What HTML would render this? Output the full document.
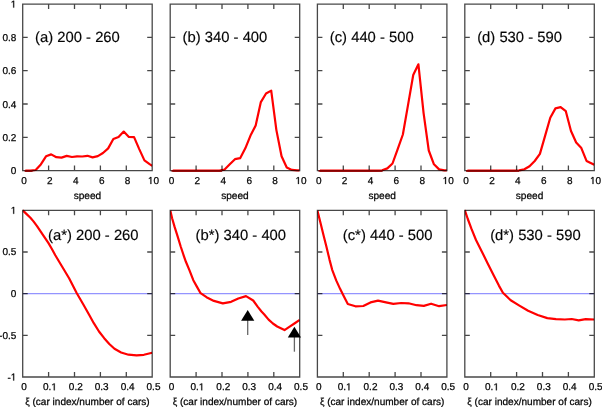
<!DOCTYPE html>
<html><head><meta charset="utf-8"><style>
html,body{margin:0;padding:0;background:#fff;}
body{width:602px;height:407px;overflow:hidden;font-family:"Liberation Sans",sans-serif;}
svg{display:block;will-change:transform;filter:blur(0.35px);}
</style></head><body>
<svg width="602" height="407" viewBox="0 0 602 407">
<rect width="602" height="407" fill="#fff"/>
<clipPath id="ct0"><rect x="22.7" y="-0.9" width="129.5" height="176.5"/></clipPath>
<clipPath id="cb0"><rect x="22.7" y="205.3" width="129.5" height="176.7"/></clipPath>
<clipPath id="ct1"><rect x="170.2" y="-0.9" width="129.5" height="176.5"/></clipPath>
<clipPath id="cb1"><rect x="170.2" y="205.3" width="129.5" height="176.7"/></clipPath>
<clipPath id="ct2"><rect x="317.4" y="-0.9" width="129.5" height="176.5"/></clipPath>
<clipPath id="cb2"><rect x="317.4" y="205.3" width="129.5" height="176.7"/></clipPath>
<clipPath id="ct3"><rect x="464.8" y="-0.9" width="129.5" height="176.5"/></clipPath>
<clipPath id="cb3"><rect x="464.8" y="205.3" width="129.5" height="176.7"/></clipPath>
<line x1="22.7" y1="293.65" x2="152.2" y2="293.65" stroke="#9494ff" stroke-width="1.1"/>
<line x1="170.2" y1="293.65" x2="299.7" y2="293.65" stroke="#9494ff" stroke-width="1.1"/>
<line x1="317.4" y1="293.65" x2="446.9" y2="293.65" stroke="#9494ff" stroke-width="1.1"/>
<line x1="464.8" y1="293.65" x2="594.3" y2="293.65" stroke="#9494ff" stroke-width="1.1"/>
<polyline clip-path="url(#ct0)" points="25.29,170.6 30.47,170.6 35.65,170 40.83,164.4 46.01,156.3 51.19,154.4 56.37,157.2 61.55,157.6 66.73,155.9 71.91,157 77.09,156.3 82.27,156.5 87.45,155.8 92.63,157.4 97.81,156.1 102.99,153 108.17,148.4 113.35,139 118.53,136.9 123.71,131.6 128.89,136.9 134.07,137.1 139.25,149.1 144.43,160.4 149.61,164.2 152.2,165.9" fill="none" stroke="#ff0000" stroke-width="2.2" stroke-linejoin="round"/>
<polyline clip-path="url(#cb0)" points="22.7,210.3 26.1,213.6 30.4,217.7 33.5,221.4 37.2,226.3 40.9,231.8 44.6,237.3 48.5,243.1 51.9,249 55.3,255.2 62.2,266.8 69.1,278.2 76.8,293.2 83.2,304.3 89.4,315.3 93.8,323.2 99,331.5 104.2,338.2 109.3,344 114.5,348.8 121.1,352.5 128.5,354.7 136.6,355.4 143.9,354.8 152.2,352.7" fill="none" stroke="#ff0000" stroke-width="2.2" stroke-linejoin="round"/>
<polyline clip-path="url(#ct1)" points="172.79,170.6 177.97,170.6 183.15,170.6 188.33,170.6 193.51,170.6 198.69,170.6 203.87,170.6 209.05,170.6 214.23,170.6 219.41,170.6 224.59,169.6 229.77,164.3 234.95,159.2 240.13,158.2 245.31,148.3 250.49,135.6 255.67,125.5 260.85,102.1 266.03,93.5 271.21,90.6 276.39,130.1 281.57,156.2 286.75,167.5 291.93,169.9 297.11,170.4 299.7,170.4" fill="none" stroke="#ff0000" stroke-width="2.2" stroke-linejoin="round"/>
<polyline clip-path="url(#cb1)" points="170.3,210.4 172.1,218.3 174.6,226.9 177.7,236.7 180.7,246.5 183.8,255.8 185.9,261.8 189.6,270.6 193.3,280.2 197,286.9 200.6,293.2 206.5,297.2 213.9,300.9 222.8,303.4 231.1,301.8 238.3,298.5 246,296.1 253.2,300.5 257.6,306.6 261.5,311.5 264.3,314.5 268.6,319.6 272.9,323.5 277.2,326.5 284.5,330.1 289.3,326.9 294.4,323.5 299.7,319.9" fill="none" stroke="#ff0000" stroke-width="2.2" stroke-linejoin="round"/>
<polyline clip-path="url(#ct2)" points="319.99,170.6 325.17,170.6 330.35,170.6 335.53,170.6 340.71,170.6 345.89,170.6 351.07,170.6 356.25,170.6 361.43,170.6 366.61,170.6 371.79,170.6 376.97,170.6 382.15,170.3 387.33,168.4 392.51,163.5 397.69,149.1 402.87,134.5 408.05,104.9 413.23,75 418.41,64.3 423.59,113.1 428.77,150.5 433.95,164.3 439.13,169.4 444.31,170.4 446.9,170.4" fill="none" stroke="#ff0000" stroke-width="2.2" stroke-linejoin="round"/>
<polyline clip-path="url(#cb2)" points="317.4,210.5 320.4,222.6 323.4,234.7 326.5,246.9 329.5,259.6 332.2,269.8 336.2,280.4 340.2,289.1 344.2,297.1 347.8,304 355.4,306.3 363.3,306 370.5,302.4 378,300.6 386,302.3 393.3,303.9 401.2,303 408.5,303.3 416.5,305.2 423.8,305.9 431.1,303.7 439.1,306.2 446.9,305" fill="none" stroke="#ff0000" stroke-width="2.2" stroke-linejoin="round"/>
<polyline clip-path="url(#ct3)" points="467.39,170.6 472.57,170.6 477.75,170.6 482.93,170.6 488.11,170.6 493.29,170.6 498.47,170.6 503.65,170.6 508.83,170.6 514.01,170.6 519.19,170.4 524.37,169.3 529.55,166.2 534.73,161 539.91,153.9 545.09,135.9 550.27,117.8 555.45,108.4 560.63,107.1 565.81,111.2 570.99,131 576.17,142.5 581.35,148.1 586.53,160.9 591.71,163.5 594.3,164.8" fill="none" stroke="#ff0000" stroke-width="2.2" stroke-linejoin="round"/>
<polyline clip-path="url(#cb3)" points="464.8,210.1 467.8,219 471.3,228.4 476,240 481.9,251.7 487.7,263.4 493.5,275.1 498.9,285.6 502.9,292.8 510.7,300.3 519.4,305.6 528.1,310.8 537.7,315 547.3,318.1 556,319.2 564.8,319.5 571.7,319 578.7,320.4 585.7,319.2 594.3,319.5" fill="none" stroke="#ff0000" stroke-width="2.2" stroke-linejoin="round"/>
<path d="M22.7,4.1H152.2V170.6H22.7ZM48.6,170.6v-5M48.6,4.1v5M74.5,170.6v-5M74.5,4.1v5M100.4,170.6v-5M100.4,4.1v5M126.3,170.6v-5M126.3,4.1v5M22.7,37.4h5M152.2,37.4h-5M22.7,70.7h5M152.2,70.7h-5M22.7,104h5M152.2,104h-5M22.7,137.3h5M152.2,137.3h-5" fill="none" stroke="#000" stroke-opacity="0.72" stroke-width="1.3"/>
<path d="M22.7,210.3H152.2V377H22.7ZM48.6,377v-5M48.6,210.3v5M74.5,377v-5M74.5,210.3v5M100.4,377v-5M100.4,210.3v5M126.3,377v-5M126.3,210.3v5M22.7,251.98h5M152.2,251.98h-5M22.7,293.65h5M152.2,293.65h-5M22.7,335.32h5M152.2,335.32h-5" fill="none" stroke="#000" stroke-opacity="0.72" stroke-width="1.3"/>
<path d="M170.2,4.1H299.7V170.6H170.2ZM196.1,170.6v-5M196.1,4.1v5M222,170.6v-5M222,4.1v5M247.9,170.6v-5M247.9,4.1v5M273.8,170.6v-5M273.8,4.1v5M170.2,37.4h5M299.7,37.4h-5M170.2,70.7h5M299.7,70.7h-5M170.2,104h5M299.7,104h-5M170.2,137.3h5M299.7,137.3h-5" fill="none" stroke="#000" stroke-opacity="0.72" stroke-width="1.3"/>
<path d="M170.2,210.3H299.7V377H170.2ZM196.1,377v-5M196.1,210.3v5M222,377v-5M222,210.3v5M247.9,377v-5M247.9,210.3v5M273.8,377v-5M273.8,210.3v5M170.2,251.98h5M299.7,251.98h-5M170.2,293.65h5M299.7,293.65h-5M170.2,335.32h5M299.7,335.32h-5" fill="none" stroke="#000" stroke-opacity="0.72" stroke-width="1.3"/>
<path d="M317.4,4.1H446.9V170.6H317.4ZM343.3,170.6v-5M343.3,4.1v5M369.2,170.6v-5M369.2,4.1v5M395.1,170.6v-5M395.1,4.1v5M421,170.6v-5M421,4.1v5M317.4,37.4h5M446.9,37.4h-5M317.4,70.7h5M446.9,70.7h-5M317.4,104h5M446.9,104h-5M317.4,137.3h5M446.9,137.3h-5" fill="none" stroke="#000" stroke-opacity="0.72" stroke-width="1.3"/>
<path d="M317.4,210.3H446.9V377H317.4ZM343.3,377v-5M343.3,210.3v5M369.2,377v-5M369.2,210.3v5M395.1,377v-5M395.1,210.3v5M421,377v-5M421,210.3v5M317.4,251.98h5M446.9,251.98h-5M317.4,293.65h5M446.9,293.65h-5M317.4,335.32h5M446.9,335.32h-5" fill="none" stroke="#000" stroke-opacity="0.72" stroke-width="1.3"/>
<path d="M464.8,4.1H594.3V170.6H464.8ZM490.7,170.6v-5M490.7,4.1v5M516.6,170.6v-5M516.6,4.1v5M542.5,170.6v-5M542.5,4.1v5M568.4,170.6v-5M568.4,4.1v5M464.8,37.4h5M594.3,37.4h-5M464.8,70.7h5M594.3,70.7h-5M464.8,104h5M594.3,104h-5M464.8,137.3h5M594.3,137.3h-5" fill="none" stroke="#000" stroke-opacity="0.72" stroke-width="1.3"/>
<path d="M464.8,210.3H594.3V377H464.8ZM490.7,377v-5M490.7,210.3v5M516.6,377v-5M516.6,210.3v5M542.5,377v-5M542.5,210.3v5M568.4,377v-5M568.4,210.3v5M464.8,251.98h5M594.3,251.98h-5M464.8,293.65h5M594.3,293.65h-5M464.8,335.32h5M594.3,335.32h-5" fill="none" stroke="#000" stroke-opacity="0.72" stroke-width="1.3"/>
<line x1="24.6" y1="170.9" x2="32.5" y2="170.9" stroke="#860000" stroke-width="1.8"/>
<line x1="171.5" y1="170.9" x2="222" y2="170.9" stroke="#860000" stroke-width="1.8"/>
<line x1="318.5" y1="170.9" x2="382.5" y2="170.9" stroke="#860000" stroke-width="1.8"/>
<line x1="466" y1="170.9" x2="519" y2="170.9" stroke="#860000" stroke-width="1.8"/>
<line x1="247.7" y1="320" x2="247.7" y2="335" stroke="#000" stroke-opacity="0.6" stroke-width="1.3"/>
<path d="M247.7,310L254.3,320.7H241.1Z" fill="#000"/>
<line x1="294.4" y1="336.7" x2="294.4" y2="351.7" stroke="#000" stroke-opacity="0.6" stroke-width="1.3"/>
<path d="M294.4,326.7L301,337.4H287.8Z" fill="#000"/>
<g font-family="Liberation Sans, sans-serif" text-rendering="geometricPrecision" fill="#050505" stroke="#050505" stroke-width="0.25">
<text x="35.1" y="42.3" font-size="14.8" stroke-width="0.15">(a) 200 - 260</text>
<text x="48.1" y="239.9" font-size="14.8" stroke-width="0.15">(a*) 200 - 260</text>
<text x="24" y="184" font-size="10" text-anchor="middle">0</text>
<text x="49.9" y="184" font-size="10" text-anchor="middle">2</text>
<text x="75.8" y="184" font-size="10" text-anchor="middle">4</text>
<text x="101.7" y="184" font-size="10" text-anchor="middle">6</text>
<text x="127.6" y="184" font-size="10" text-anchor="middle">8</text>
<path transform="translate(147.94,184) scale(0.004883,-0.004883)" d="M515,0L515,1237L197,1010L197,1180L530,1409L696,1409L696,0Z" vector-effect="non-scaling-stroke"/><text x="153.5" y="184" font-size="10">0</text>
<text x="87.45" y="198.7" font-size="10.1" text-anchor="middle">speed</text>
<text x="24" y="390.3" font-size="10" text-anchor="middle">0</text>
<text x="42.95" y="390.3" font-size="10">0.</text><path transform="translate(51.29,390.3) scale(0.004883,-0.004883)" d="M515,0L515,1237L197,1010L197,1180L530,1409L696,1409L696,0Z" vector-effect="non-scaling-stroke"/>
<text x="75.8" y="390.3" font-size="10" text-anchor="middle">0.2</text>
<text x="101.7" y="390.3" font-size="10" text-anchor="middle">0.3</text>
<text x="127.6" y="390.3" font-size="10" text-anchor="middle">0.4</text>
<text x="153.5" y="390.3" font-size="10" text-anchor="middle">0.5</text>
<text x="87.45" y="405.4" font-size="10.05" text-anchor="middle">ξ (car index/number of cars)</text>
<text x="182.6" y="42.3" font-size="14.8" stroke-width="0.15">(b) 340 - 400</text>
<text x="195.6" y="239.9" font-size="14.8" stroke-width="0.15">(b*) 340 - 400</text>
<text x="171.5" y="184" font-size="10" text-anchor="middle">0</text>
<text x="197.4" y="184" font-size="10" text-anchor="middle">2</text>
<text x="223.3" y="184" font-size="10" text-anchor="middle">4</text>
<text x="249.2" y="184" font-size="10" text-anchor="middle">6</text>
<text x="275.1" y="184" font-size="10" text-anchor="middle">8</text>
<path transform="translate(295.44,184) scale(0.004883,-0.004883)" d="M515,0L515,1237L197,1010L197,1180L530,1409L696,1409L696,0Z" vector-effect="non-scaling-stroke"/><text x="301" y="184" font-size="10">0</text>
<text x="234.95" y="198.7" font-size="10.1" text-anchor="middle">speed</text>
<text x="171.5" y="390.3" font-size="10" text-anchor="middle">0</text>
<text x="190.45" y="390.3" font-size="10">0.</text><path transform="translate(198.79,390.3) scale(0.004883,-0.004883)" d="M515,0L515,1237L197,1010L197,1180L530,1409L696,1409L696,0Z" vector-effect="non-scaling-stroke"/>
<text x="223.3" y="390.3" font-size="10" text-anchor="middle">0.2</text>
<text x="249.2" y="390.3" font-size="10" text-anchor="middle">0.3</text>
<text x="275.1" y="390.3" font-size="10" text-anchor="middle">0.4</text>
<text x="301" y="390.3" font-size="10" text-anchor="middle">0.5</text>
<text x="234.95" y="405.4" font-size="10.05" text-anchor="middle">ξ (car index/number of cars)</text>
<text x="329.8" y="42.3" font-size="14.8" stroke-width="0.15">(c) 440 - 500</text>
<text x="342.8" y="239.9" font-size="14.8" stroke-width="0.15">(c*) 440 - 500</text>
<text x="318.7" y="184" font-size="10" text-anchor="middle">0</text>
<text x="344.6" y="184" font-size="10" text-anchor="middle">2</text>
<text x="370.5" y="184" font-size="10" text-anchor="middle">4</text>
<text x="396.4" y="184" font-size="10" text-anchor="middle">6</text>
<text x="422.3" y="184" font-size="10" text-anchor="middle">8</text>
<path transform="translate(442.64,184) scale(0.004883,-0.004883)" d="M515,0L515,1237L197,1010L197,1180L530,1409L696,1409L696,0Z" vector-effect="non-scaling-stroke"/><text x="448.2" y="184" font-size="10">0</text>
<text x="382.15" y="198.7" font-size="10.1" text-anchor="middle">speed</text>
<text x="318.7" y="390.3" font-size="10" text-anchor="middle">0</text>
<text x="337.65" y="390.3" font-size="10">0.</text><path transform="translate(345.99,390.3) scale(0.004883,-0.004883)" d="M515,0L515,1237L197,1010L197,1180L530,1409L696,1409L696,0Z" vector-effect="non-scaling-stroke"/>
<text x="370.5" y="390.3" font-size="10" text-anchor="middle">0.2</text>
<text x="396.4" y="390.3" font-size="10" text-anchor="middle">0.3</text>
<text x="422.3" y="390.3" font-size="10" text-anchor="middle">0.4</text>
<text x="448.2" y="390.3" font-size="10" text-anchor="middle">0.5</text>
<text x="382.15" y="405.4" font-size="10.05" text-anchor="middle">ξ (car index/number of cars)</text>
<text x="477.2" y="42.3" font-size="14.8" stroke-width="0.15">(d) 530 - 590</text>
<text x="490.2" y="239.9" font-size="14.8" stroke-width="0.15">(d*) 530 - 590</text>
<text x="466.1" y="184" font-size="10" text-anchor="middle">0</text>
<text x="492" y="184" font-size="10" text-anchor="middle">2</text>
<text x="517.9" y="184" font-size="10" text-anchor="middle">4</text>
<text x="543.8" y="184" font-size="10" text-anchor="middle">6</text>
<text x="569.7" y="184" font-size="10" text-anchor="middle">8</text>
<path transform="translate(590.04,184) scale(0.004883,-0.004883)" d="M515,0L515,1237L197,1010L197,1180L530,1409L696,1409L696,0Z" vector-effect="non-scaling-stroke"/><text x="595.6" y="184" font-size="10">0</text>
<text x="529.55" y="198.7" font-size="10.1" text-anchor="middle">speed</text>
<text x="466.1" y="390.3" font-size="10" text-anchor="middle">0</text>
<text x="485.05" y="390.3" font-size="10">0.</text><path transform="translate(493.39,390.3) scale(0.004883,-0.004883)" d="M515,0L515,1237L197,1010L197,1180L530,1409L696,1409L696,0Z" vector-effect="non-scaling-stroke"/>
<text x="517.9" y="390.3" font-size="10" text-anchor="middle">0.2</text>
<text x="543.8" y="390.3" font-size="10" text-anchor="middle">0.3</text>
<text x="569.7" y="390.3" font-size="10" text-anchor="middle">0.4</text>
<text x="595.6" y="390.3" font-size="10" text-anchor="middle">0.5</text>
<text x="529.55" y="405.4" font-size="10.05" text-anchor="middle">ξ (car index/number of cars)</text>
<text x="16.3" y="174.1" font-size="10" text-anchor="end">0</text>
<text x="16.3" y="140.8" font-size="10" text-anchor="end">0.2</text>
<text x="16.3" y="107.5" font-size="10" text-anchor="end">0.4</text>
<text x="16.3" y="74.2" font-size="10" text-anchor="end">0.6</text>
<text x="16.3" y="40.9" font-size="10" text-anchor="end">0.8</text>
<path transform="translate(10.74,7.6) scale(0.004883,-0.004883)" d="M515,0L515,1237L197,1010L197,1180L530,1409L696,1409L696,0Z" vector-effect="non-scaling-stroke"/>
<path transform="translate(10.74,213.8) scale(0.004883,-0.004883)" d="M515,0L515,1237L197,1010L197,1180L530,1409L696,1409L696,0Z" vector-effect="non-scaling-stroke"/>
<text x="16.3" y="255.48" font-size="10" text-anchor="end">0.5</text>
<text x="16.3" y="297.15" font-size="10" text-anchor="end">0</text>
<text x="16.3" y="338.82" font-size="10" text-anchor="end">-0.5</text>
<text x="7.41" y="380.5" font-size="10">-</text><path transform="translate(10.74,380.5) scale(0.004883,-0.004883)" d="M515,0L515,1237L197,1010L197,1180L530,1409L696,1409L696,0Z" vector-effect="non-scaling-stroke"/>
</g>
</svg>
</body></html>
